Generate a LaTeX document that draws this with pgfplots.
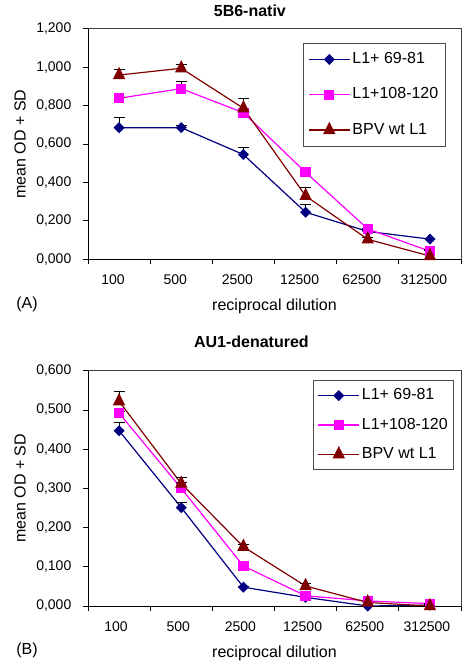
\documentclass[border=0pt]{standalone}
\usepackage{fontspec}
\setmainfont{Liberation Sans}
\usepackage{pgfplots}
\pgfplotsset{compat=1.18}
\definecolor{cblue}{RGB}{0,0,128}
\definecolor{cmag}{RGB}{255,0,255}
\definecolor{cred}{RGB}{128,0,0}
\pgfplotsset{
 myaxis/.style={
  scale only axis, width=373pt, clip=false,
  xmin=-0.5, xmax=5.5,
  xtick={-0.5,0.5,1.5,2.5,3.5,4.5,5.5}, xticklabels={},
  extra x ticks={0,1,2,3,4,5},
  extra x tick labels={100,500,2500,12500,62500,312500},
  extra x tick style={major tick length=0pt},
  tick align=outside, xtick pos=bottom, ytick pos=left,
  major tick length=4.5pt,
  tick style={black, line width=0.8pt},
  axis line style={black!75, line width=0.8pt},
  font=\fontsize{16}{19}\selectfont,
  tick label style={font=\fontsize{14}{17}\selectfont},
  yticklabel style={anchor=east, inner sep=0pt, xshift=-12pt},
  xticklabel style={anchor=base},
  ymin=0,
  ylabel={mean OD + SD},
  xlabel={reciprocal dilution},
  legend cell align=left,
  legend image code/.code={\draw[mark repeat=2,mark phase=2,##1] plot coordinates {(0pt,0pt) (20.5pt,0pt) (41pt,0pt)};},
  title style={font=\bfseries\fontsize{16}{19}\selectfont, anchor=base},
  xlabel style={anchor=base},
  ylabel style={anchor=center},
 },
 sA/.style={cblue, line width=1.2pt, mark=square*, mark size=3.3pt, mark options={rotate=45, solid, fill=cblue, draw=cblue}},
 sB/.style={cmag, line width=1.2pt, mark=square*, mark size=4.5pt, mark options={solid, fill=cmag, draw=cmag}},
 sC/.style={cred, line width=1.2pt, mark=triangle*, mark size=6pt, mark options={solid, fill=cred, draw=cred, yscale=1.15}},
 ebars/.style={error bars/.cd, y dir=plus, y explicit, error mark=-, error bar style={black, line width=0.9pt}, error mark options={rotate=90, black, mark size=5.5pt, line width=0.9pt}},
}
\begin{document}
\begin{tikzpicture}[x=1pt,y=1pt]
\useasboundingbox (0,0) rectangle (470,665);
% ---------- (A) ----------
\begin{axis}[myaxis,
  at={(88pt,405.7pt)}, anchor=south west, height=230.6pt,
  ymax=1.2, ytick={0,0.2,0.4,0.6,0.8,1,1.2},
  yticklabels={{0,000},{0,200},{0,400},{0,600},{0,800},{1,000},{1,200}},
  title={5B6-nativ},
  title style={at={(axis description cs:0.434,1.025)}},
  xlabel style={at={(axis description cs:0.5,-0.224)}},
  ylabel style={at={(axis description cs:-0.1823,0.5)}},
  xticklabel style={yshift=-25.7pt, xshift=-6pt},
  legend style={at={(axis description cs:0.576,0.938)}, anchor=north west, draw=black!70, line width=0.8pt,
    inner xsep=5pt, inner ysep=6.8pt, row sep=16.8pt,
    nodes={inner sep=2pt, text height=11.5pt, text depth=3pt},
    font=\fontsize{16}{19}\selectfont},
]
\addplot[sA, ebars] coordinates {
 (0,0.685) +- (0,0.055)
 (1,0.685) +- (0,0.012)
 (2,0.545) +- (0,0.035)
 (3,0.245) +- (0,0.043)
 (4,0.145) +- (0,0.005)
 (5,0.105) +- (0,0.005)
};
\addlegendentry{L1+ 69-81}
\addplot[sB, ebars] coordinates {
 (0,0.838) +- (0,0.005)
 (1,0.888) +- (0,0.035)
 (2,0.763) +- (0,0.008)
 (3,0.453) +- (0,0.005)
 (4,0.158) +- (0,0.005)
 (5,0.042) +- (0,0.010)
};
\addlegendentry{L1+108-120}
\addplot[sC, ebars] coordinates {
 (0,0.959) +- (0,0.028)
 (1,0.994) +- (0,0.020)
 (2,0.786) +- (0,0.050)
 (3,0.330) +- (0,0.045)
 (4,0.104) +- (0,0.010)
 (5,0.017) +- (0,0.030)
};
\addlegendentry{BPV wt L1}
\draw[black, line width=0.8pt] (rel axis cs:0,1) -- (rel axis cs:0,0) -- (rel axis cs:1,0);
\node[anchor=base, font=\fontsize{16}{19}\selectfont] at (axis description cs:-0.1635,-0.2155) {(A)};
\end{axis}
% ---------- (B) ----------
\begin{axis}[myaxis,
  at={(88pt,59pt)}, anchor=south west, height=235.3pt,
  ymax=0.6, ytick={0,0.1,0.2,0.3,0.4,0.5,0.6},
  yticklabels={{0,000},{0,100},{0,200},{0,300},{0,400},{0,500},{0,600}},
  title={AU1-denatured},
  title style={at={(axis description cs:0.438,1.073)}},
  xlabel style={at={(axis description cs:0.5,-0.221)}},
  ylabel style={at={(axis description cs:-0.1823,0.5)}},
  xticklabel style={yshift=-25.7pt, xshift=-3pt},
  legend style={at={(axis description cs:0.604,0.9605)}, anchor=north west, draw=black!70, line width=0.8pt,
    inner xsep=4pt, inner ysep=6pt, row sep=10.8pt,
    nodes={inner sep=2pt, text height=11.5pt, text depth=3pt},
    font=\fontsize{16}{19}\selectfont},
]
\addplot[sA, ebars] coordinates {
 (0,0.447) +- (0,0.020)
 (1,0.251) +- (0,0.013)
 (2,0.048) +- (0,0.003)
 (3,0.022) +- (0,0.003)
 (4,0.000) +- (0,0.001)
 (5,0.002) +- (0,0.001)
};
\addlegendentry{L1+ 69-81}
\addplot[sB, ebars] coordinates {
 (0,0.492) +- (0,0.005)
 (1,0.300) +- (0,0.014)
 (2,0.102) +- (0,0.004)
 (3,0.026) +- (0,0.003)
 (4,0.013) +- (0,0.002)
 (5,0.006) +- (0,0.001)
};
\addlegendentry{L1+108-120}
\addplot[sC, ebars] coordinates {
 (0,0.522) +- (0,0.025)
 (1,0.312) +- (0,0.015)
 (2,0.151) +- (0,0.006)
 (3,0.051) +- (0,0.007)
 (4,0.009) +- (0,0.002)
 (5,0.000) +- (0,0.001)
};
\addlegendentry{BPV wt L1}
\draw[black, line width=0.8pt] (rel axis cs:0,1) -- (rel axis cs:0,0) -- (rel axis cs:1,0);
\node[anchor=base, font=\fontsize{16}{19}\selectfont] at (axis description cs:-0.1635,-0.208) {(B)};
\end{axis}
\end{tikzpicture}
\end{document}
